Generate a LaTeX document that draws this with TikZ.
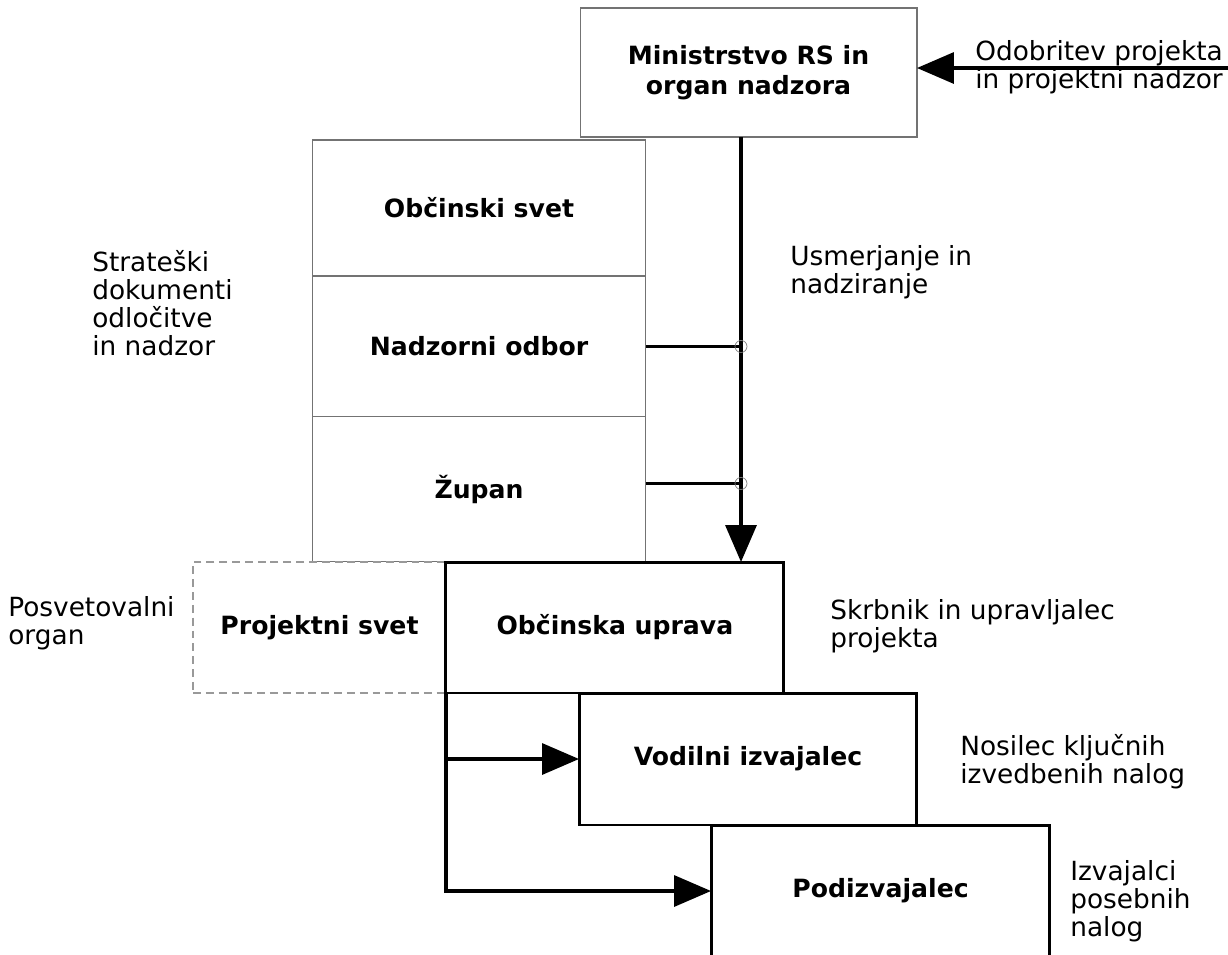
\documentclass[tikz,border=0pt]{standalone}
\usepackage{fontspec}
\setmainfont{DejaVu Sans}
\usetikzlibrary{arrows.meta, calc, positioning}

\begin{document}
\begin{tikzpicture}[
        x=0.02cm, y=-0.02cm,
        thinbox/.style={draw=black!55, line width=0.6pt, outer sep=0pt, align=center, font=\bfseries\fontsize{14.3}{17}\selectfont},
        thickbox/.style={draw=black, line width=1.7pt, outer sep=0pt, align=center, font=\bfseries\fontsize{14.3}{17}\selectfont},
        dashbox/.style={draw=black!40, line width=0.6pt, dash pattern=on 4.5pt off 2.8pt, outer sep=0pt, align=center, font=\bfseries\fontsize{14.3}{17}\selectfont},
        note/.style={anchor=west, inner sep=0pt, align=left, font=\fontsize{15}{16}\selectfont},
        conn/.style={line width=1.9pt},
        arrow/.style={line width=1.9pt, -{Triangle[length=0.74cm, width=0.62cm]}},
        tapmark/.style={circle, draw=black!50, line width=0.4pt, minimum size=0.24cm, inner sep=0pt}
    ]

    \useasboundingbox (0,0) rectangle (1228,954);
    \clip (0,0) rectangle (1228,954);

    % Boxes
    \node[thinbox, minimum width=6.74cm, minimum height=2.58cm] (min) at (748.5,72.5) {Ministrstvo RS in\\organ nadzora};
    \node[thinbox, minimum width=6.68cm, minimum height=2.72cm] (svet) at (479,208) {Občinski svet};
    \node[thinbox, minimum width=6.68cm, minimum height=2.82cm, below=0pt of svet] (odbor) {Nadzorni odbor};
    \node[thinbox, minimum width=6.68cm, minimum height=2.9cm, below=0pt of odbor] (zupan) {Župan};
    \node[dashbox, minimum width=5.06cm, minimum height=2.62cm] (projsvet) at (319.5,627.5) {Projektni svet};
    \node[thickbox, minimum width=6.76cm, minimum height=2.62cm, right=0pt of projsvet] (uprava) {Občinska uprava};
    \node[thickbox, minimum width=6.76cm, minimum height=2.64cm] (vodilni) at (748,759) {Vodilni izvajalec};
    \node[thickbox, minimum width=6.78cm, minimum height=2.64cm] (podizv) at (880.5,891) {Podizvajalec};

    % Side notes
    \node[note] (odobtxt) at (975,67) {Odobritev projekta\\in projektni nadzor};
    \node[note] (strattxt) at (92,303) {Strateški\\dokumenti\\odločitve\\in nadzor};
    \node[note] (usmertxt) at (790,272) {Usmerjanje in\\nadziranje};
    \node[note] (posvettxt) at (8,623) {Posvetovalni\\organ};
    \node[note] (skrbtxt) at (830,626) {Skrbnik in upravljalec\\projekta};
    \node[note] (nositxt) at (960,762) {Nosilec ključnih\\izvedbenih nalog};
    \node[note] (izvajtxt) at (1070,901) {Izvajalci\\posebnih\\nalog};

    % Connectors
    \coordinate (tap) at (741,0);
    \coordinate (odob) at (1228,68);
    \draw[arrow] (odob) -- (odob -| min.east);
    \draw[arrow] (min.south -| tap) -- (uprava.north -| tap);
    \draw[conn] (odbor.east) -- (odbor.east -| tap);
    \draw[conn] ([yshift=3.4pt]zupan.east) -- ([yshift=3.4pt]zupan.east -| tap);
    \node[tapmark] (tapodbor) at (odbor.east -| tap) {};
    \node[tapmark] (tapzupan) at ([yshift=3.4pt]zupan.east -| tap) {};
    \draw[arrow] (uprava.south west) |- (podizv.west);
    \draw[arrow] (uprava.south west |- vodilni.west) -- (vodilni.west);

\end{tikzpicture}
\end{document}
